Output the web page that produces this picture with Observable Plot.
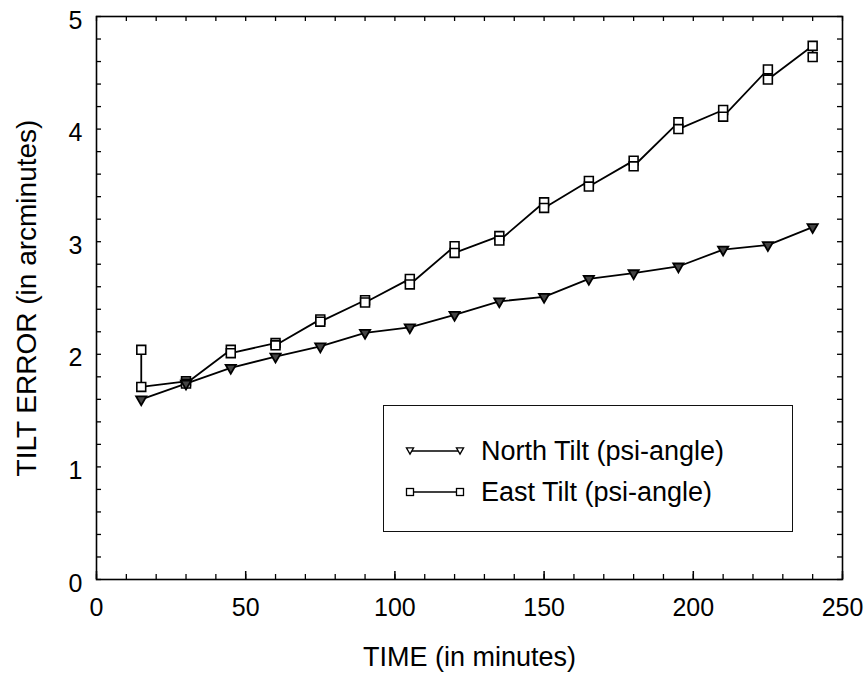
<!DOCTYPE html>
<html>
<head>
<meta charset="utf-8">
<script src="https://cdn.jsdelivr.net/npm/d3@7"></script>
<script src="https://cdn.jsdelivr.net/npm/@observablehq/plot@0.6"></script>
<style>
  body { margin: 0; background: #fff; }
  #wrap { position: relative; width: 867px; height: 675px; font-family: "Liberation Sans", Arial, Helvetica, sans-serif; color: #000; }
  #legend { position: absolute; left: 383px; top: 405px; width: 408px; height: 125px; border: 1.5px solid #111; background: #fff; }
  .lrow { position: absolute; left: 0; width: 100%; height: 30px; }
  .lrow svg { position: absolute; left: 20px; top: 7px; }
  .lrow span { position: absolute; left: 97px; top: 0; font-size: 27px; line-height: 30px; white-space: nowrap; }
</style>
</head>
<body>
<div id="wrap">
  <div id="chart"></div>
  <div id="legend"></div>
</div>
<script>
// ---- data ----
const times = [15, 30, 45, 60, 75, 90, 105, 120, 135, 150, 165, 180, 195, 210, 225, 240];
const northTilt = [1.60, 1.74, 1.88, 1.98, 2.07, 2.19, 2.24, 2.35, 2.47, 2.51, 2.67, 2.72, 2.78, 2.93, 2.97, 3.13];
const eastTiltFirst = [2.04, 1.76, 2.04, 2.10, 2.31, 2.48, 2.67, 2.96, 3.05, 3.35, 3.54, 3.72, 4.06, 4.17, 4.53, 4.74];
const eastTiltSecond = [1.71, 1.74, 2.01, 2.08, 2.29, 2.46, 2.62, 2.90, 3.01, 3.30, 3.49, 3.67, 4.00, 4.11, 4.44, 4.64];
const seriesNames = ["North Tilt (psi-angle)", "East Tilt (psi-angle)"];
const xTickLabels = [0, 50, 100, 150, 200, 250];
const yTickLabels = [0, 1, 2, 3, 4, 5];
const xMinorTicks = [0,10,20,30,40,50,60,70,80,90,100,110,120,130,140,150,160,170,180,190,200,210,220,230,240,250];
const yMinorTicks = [0,0.2,0.4,0.6,0.8,1,1.2,1.4,1.6,1.8,2,2.2,2.4,2.6,2.8,3,3.2,3.4,3.6,3.8,4,4.2,4.4,4.6,4.8,5];
const xTitle = "TIME (in minutes)";
const yTitle = "TILT ERROR (in arcminutes)";

// ---- tables ----
const north = times.map((t, i) => ({time: t, tilt: northTilt[i]}));
const east = times.flatMap((t, i) => [
  {time: t, tilt: eastTiltFirst[i]},
  {time: t, tilt: eastTiltSecond[i]}
]);

const W = 867, H = 675, ML = 96, MR = 25, MT = 16, MB = 96;
const PW = W - ML - MR, PH = H - MT - MB;
const font = "'Liberation Sans', Arial, Helvetica, sans-serif";

const chart = Plot.plot({
  width: W, height: H,
  marginLeft: ML, marginRight: MR, marginTop: MT, marginBottom: MB,
  x: {domain: [0, 250]},
  y: {domain: [0, 5]},
  style: {fontFamily: font, background: "white", color: "black"},
  marks: [
    // inward ticks on all four sides
    Plot.tickX(xMinorTicks, {x: d => d, insetTop: PH - 5, stroke: "black", strokeWidth: 1.3}),
    Plot.tickX(xTickLabels, {x: d => d, insetTop: PH - 8, stroke: "black", strokeWidth: 1.5}),
    Plot.tickX(xMinorTicks, {x: d => d, insetBottom: PH - 5, stroke: "black", strokeWidth: 1.3}),
    Plot.tickY(yMinorTicks, {y: d => d, insetRight: PW - 5, stroke: "black", strokeWidth: 1.3}),
    Plot.tickY(yMinorTicks, {y: d => d, insetLeft: PW - 5, stroke: "black", strokeWidth: 1.3}),
    Plot.frame({stroke: "black", strokeWidth: 1.6}),
    Plot.axisX({ticks: xTickLabels, tickSize: 0, tickPadding: 19, fontSize: 25, tickFormat: d => String(d), label: null}),
    Plot.axisY({ticks: yTickLabels, tickSize: 0, tickPadding: 14, fontSize: 25, dy: 4, tickFormat: d => String(d), label: null}),
    Plot.text([xTitle], {frameAnchor: "bottom", textAnchor: "middle", dy: 78, lineAnchor: "middle", fontSize: 27, text: d => d}),
    Plot.text([yTitle], {frameAnchor: "left", textAnchor: "middle", dx: -69, rotate: -90, lineAnchor: "middle", fontSize: 28, text: d => d}),
    // series
    Plot.line(east, {x: "time", y: "tilt", stroke: "black", strokeWidth: 1.8}),
    Plot.line(north, {x: "time", y: "tilt", stroke: "black", strokeWidth: 1.8}),
    Plot.dot(east, {x: "time", y: "tilt", symbol: "square", r: 5, stroke: "black", fill: "white", strokeWidth: 1.6}),
    Plot.dot(north, {x: "time", y: "tilt", symbol: "triangle", rotate: 180, r: 3.8, stroke: "black", fill: "#444", strokeWidth: 1.8})
  ]
});
document.getElementById("chart").appendChild(chart);

// ---- legend ----
const legend = d3.select("#legend");
const rowsTop = [30, 71];
seriesNames.forEach((name, i) => {
  const row = legend.append("div").attr("class", "lrow").style("top", rowsTop[i] + "px");
  const svg = row.append("svg").attr("width", 62).attr("height", 16);
  svg.append("line").attr("x1", 6).attr("x2", 56).attr("y1", 8).attr("y2", 8)
     .attr("stroke", "black").attr("stroke-width", 1.6);
  [6, 56].forEach(cx => {
    if (i === 0) {
      svg.append("path").attr("d", d3.symbol(d3.symbolTriangle, 22)())
         .attr("transform", `translate(${cx},7) rotate(180)`)
         .attr("fill", "white").attr("stroke", "black").attr("stroke-width", 1.3);
    } else {
      svg.append("rect").attr("x", cx - 3.5).attr("y", 4.5).attr("width", 7).attr("height", 7)
         .attr("fill", "white").attr("stroke", "black").attr("stroke-width", 1.3);
    }
  });
  row.append("span").text(name);
});
</script>
</body>
</html>
